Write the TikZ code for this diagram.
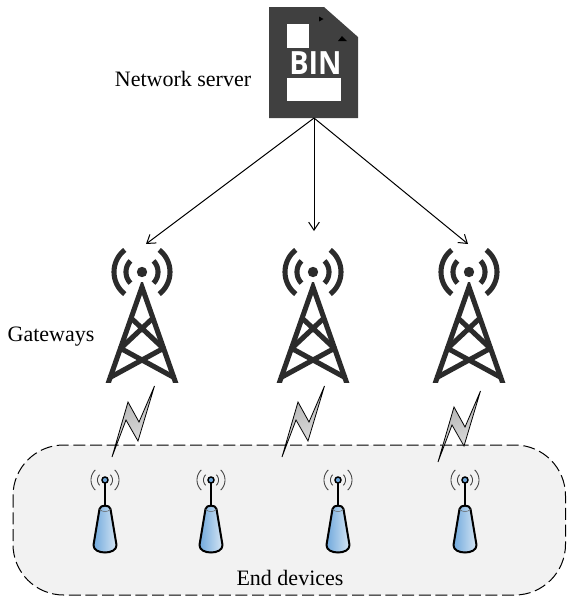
\documentclass[tikz,border=0pt]{standalone}
\usepackage{fontspec}
\setmainfont{Liberation Serif}
\newfontfamily\binfont{Open Sans}
\usetikzlibrary{arrows.meta}
\definecolor{towerc}{HTML}{2B2B2B}
\definecolor{docc}{HTML}{404040}
\definecolor{zonec}{HTML}{F2F2F2}
\definecolor{devblue}{HTML}{6FA8DC}
\definecolor{devlight}{HTML}{D6E6F4}
\tikzset{
  lbl/.style={inner sep=0pt,font=\fontsize{16.5pt}{18pt}\selectfont,text=black},
  link/.style={draw=black,line width=0.75pt,-{Straight Barb[length=6pt,width=8pt]}},
  towerline/.style={draw=towerc,line width=3.8pt},
  boltshape/.style={draw=black,line width=0.6pt,line join=miter,left color=black!32,right color=black!10,shading angle=20},
  devwave/.style={draw=black!75,line width=0.65pt},
  pics/tower/.style={code={
    \fill[towerc] (0,0) circle (5.2);
    \foreach \s in {-1,1}{
      \draw[towerline] plot[domain=-52:52,samples=25] ({\s*28*cos(\x)},{28*sin(\x)});
      \draw[towerline] plot[domain=-44:44,samples=25] ({\s*16*cos(\x)},{16*sin(\x)});
    }
    \begin{scope}
      \clip (-45,10) rectangle (45,110);
      \draw[towerline,line join=miter] (-35.5,116) -- (0,15) -- (35.5,116);
      \draw[towerline] (-11,46) -- (22,77) (11,46) -- (-22,77);
      \draw[towerline] (-22,76) -- (33,106) (22,76) -- (-33,106);
    \end{scope}
  }},
  pics/bolt/.style={code={
    \path[boltshape] (0,0) -- (16,-55) -- (27,-35) -- (42.5,-71) -- (26,-16) -- (14,-37) -- cycle;
  }},
  pics/device/.style={code={
    \foreach \s in {-1,1}{
      \draw[devwave] plot[domain=-45:45,samples=15] ({\s*7.5*cos(\x)},{7.5*sin(\x)});
      \draw[devwave] plot[domain=-46:46,samples=15] ({\s*14*cos(\x)},{14*sin(\x)});
    }
    \draw[black,line width=1.4pt] (0,3) -- (0,26);
    \path[draw=black,line width=1.5pt,left color=devblue,right color=devlight,line join=round]
      (-5.5,29) .. controls (-5,24.5) and (5,24.5) .. (5.5,29)
      -- (11.5,65) .. controls (12,75) and (-12,75) .. (-11.5,65) -- cycle;
    \draw[black!60,line width=0.4pt] (-5.5,29) .. controls (-3,32.5) and (3,32.5) .. (5.5,29);
    \filldraw[fill=devblue,draw=black,line width=1.1pt] (0,0) circle (3);
  }}
}
\begin{document}
\begin{tikzpicture}[x=0.75pt,y=-0.75pt]
\useasboundingbox (0,0) rectangle (572,608);
% end-device zone
\path[fill=zonec,draw=black,line width=0.75pt,dash pattern=on 9pt off 3.5pt,rounded corners=38pt]
  (13,445) rectangle (565.5,595);
% server document
\fill[docc] (269,7) -- (324,7) -- (358,37) -- (358,118) -- (269,118) -- cycle;
\fill[white] (287,24) rectangle (309,48);
\fill[white] (287,78) rectangle (341,101);
\fill[black] (319,16.5) -- (323.5,19) -- (319,21.5) -- cycle;
\fill[black] (342,36) -- (347,41) -- (338,41) -- cycle;
\node[inner sep=0pt,text=white,xscale=0.9,font=\binfont\bfseries\fontsize{24pt}{24pt}\selectfont] (binlabel) at (315.5,63.5) {BIN};
% labels
\node[lbl] (serverlabel) at (183,79) {Network server};
\node[lbl] (gwlabel) at (51,336.5) {Gateways};
\node[lbl] (devlabel) at (290,578) {End devices};
% towers
\pic at (142,272) {tower};
\pic at (313,272) {tower};
\pic at (469,272) {tower};
% connector ends
\coordinate (server) at (314,118);
\coordinate (gwa) at (146,244);
\coordinate (gwb) at (314,231);
\coordinate (gwc) at (468,244);
\draw[link] (server) -- (gwa);
\draw[link] (server) -- (gwb);
\draw[link] (server) -- (gwc);
% radio links
\pic at (112,457) {bolt};
\pic at (282,457) {bolt};
\pic at (438,462) {bolt};
% end devices
\pic at (105,480) {device};
\pic at (211,480) {device};
\pic at (338,480) {device};
\pic at (465,480) {device};
\end{tikzpicture}
\end{document}
